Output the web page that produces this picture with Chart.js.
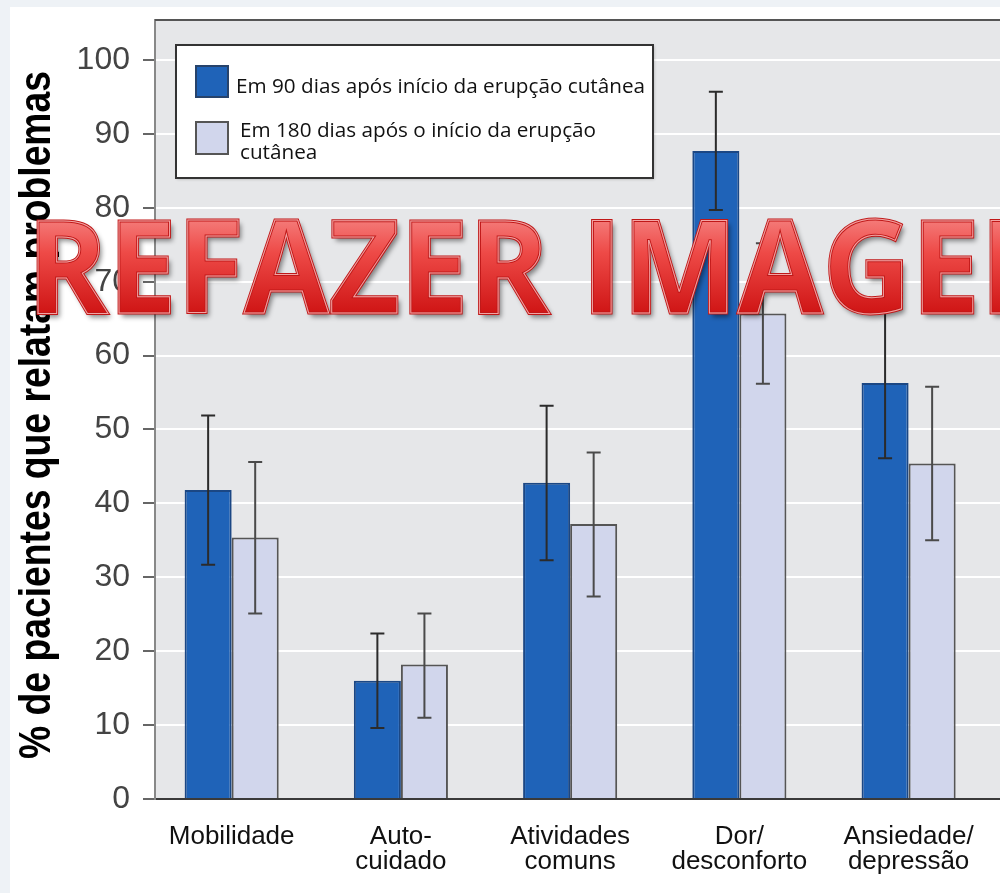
<!DOCTYPE html>
<html>
<head>
<meta charset="utf-8">
<script src="https://cdn.jsdelivr.net/npm/chart.js@4.4.0/dist/chart.umd.min.js"></script>
<style>
  body { margin: 0; background: #eef2f6; }
  canvas { display: block; }
</style>
</head>
<body>
<canvas id="grafico" width="1000" height="893"></canvas>
<script>
// categorias do eixo x (quebradas em linhas)
const categorias = [
    ['Mobilidade'],
    ['Auto-', 'cuidado'],
    ['Atividades', 'comuns'],
    ['Dor/', 'desconforto'],
    ['Ansiedade/', 'depressão']
];

const serie90 = 'Em 90 dias após início da erupção cutânea';
const serie180 = 'Em 180 dias após o início da erupção cutânea';

// % de pacientes
const valores90 = [41.8, 16.0, 42.8, 87.7, 56.3];
const valores180 = [35.4, 18.2, 37.2, 65.7, 45.4];

// intervalos (barras de erro)
const min90 = [31.7, 9.6, 32.3, 79.7, 46.1];
const max90 = [51.9, 22.4, 53.2, 95.7, 66.6];
const min180 = [25.1, 11.0, 27.4, 56.2, 35.0];
const max180 = [45.6, 25.1, 46.9, 75.2, 55.8];

const ticksY = [0, 10, 20, 30, 40, 50, 60, 70, 80, 90, 100];

const tituloY = '% de pacientes que relatam problemas';
const marcaDagua = 'REFAZER IMAGEM';

const azul = '#1f63b8';
const claro = '#d1d6ec';

function pontos(valores) {
    return valores.map((v, i) => ({ x: i, y: v }));
}

// fundo: moldura branca e caixa cinza do grafico
const fundo = {
    id: 'fundo',
    beforeDraw(chart) {
        const ctx = chart.ctx;
        const a = chart.chartArea;
        ctx.save();
        ctx.fillStyle = '#eef2f6';
        ctx.fillRect(0, 0, chart.width, chart.height);
        ctx.fillStyle = '#ffffff';
        ctx.fillRect(10, 7, chart.width - 10, chart.height - 7);
        ctx.fillStyle = '#e6e7e9';
        ctx.fillRect(a.left, a.top, chart.width - a.left, a.bottom - a.top);
        ctx.restore();
    },
    afterDraw(chart) {
        const ctx = chart.ctx;
        const a = chart.chartArea;
        ctx.save();
        ctx.strokeStyle = '#555';
        ctx.lineWidth = 2;
        ctx.beginPath();
        ctx.moveTo(a.left, a.top);
        ctx.lineTo(chart.width, a.top);
        ctx.stroke();
        // titulo do eixo y
        ctx.fillStyle = '#000';
        ctx.font = 'bold 44px "Liberation Sans", Arial';
        ctx.textAlign = 'center';
        ctx.textBaseline = 'middle';
        const w = ctx.measureText(tituloY).width;
        ctx.translate(38, 415);
        ctx.rotate(-Math.PI / 2);
        ctx.scale(688 / w, 1);
        ctx.fillText(tituloY, 0, 0);
        ctx.restore();
    }
};

// barras de erro
const barrasErro = {
    id: 'barrasErro',
    afterDatasetsDraw(chart) {
        const ctx = chart.ctx;
        const y = chart.scales.y;
        const limites = [[min90, max90], [min180, max180]];
        ctx.save();
        ctx.lineWidth = 2;
        chart.data.datasets.forEach((ds, d) => {
            ctx.strokeStyle = d === 0 ? '#2b2b2b' : '#4a4a4a';
            chart.getDatasetMeta(d).data.forEach((bar, i) => {
                const yb = y.getPixelForValue(limites[d][0][i]);
                const yt = y.getPixelForValue(limites[d][1][i]);
                ctx.beginPath();
                ctx.moveTo(bar.x, yb);
                ctx.lineTo(bar.x, yt);
                ctx.moveTo(bar.x - 7, yt);
                ctx.lineTo(bar.x + 7, yt);
                ctx.moveTo(bar.x - 7, yb);
                ctx.lineTo(bar.x + 7, yb);
                ctx.stroke();
            });
        });
        ctx.restore();
    }
};

// legenda em caixa, com quebra de linha
const legenda = {
    id: 'legenda',
    afterDatasetsDraw(chart) {
        const ctx = chart.ctx;
        const ds = chart.data.datasets;
        ctx.save();
        ctx.shadowColor = 'rgba(0,0,0,0.25)';
        ctx.shadowBlur = 3;
        ctx.shadowOffsetX = 1;
        ctx.shadowOffsetY = 1;
        ctx.fillStyle = '#ffffff';
        ctx.fillRect(176, 45, 477, 133);
        ctx.shadowColor = 'transparent';
        ctx.strokeStyle = '#333';
        ctx.lineWidth = 2;
        ctx.strokeRect(176, 45, 477, 133);

        ctx.fillStyle = ds[0].backgroundColor;
        ctx.fillRect(196, 66, 32, 31);
        ctx.strokeStyle = '#27436b';
        ctx.strokeRect(196, 66, 32, 31);
        ctx.fillStyle = ds[1].backgroundColor;
        ctx.fillRect(196, 122, 32, 32);
        ctx.strokeStyle = '#555';
        ctx.strokeRect(196, 122, 32, 32);

        ctx.fillStyle = '#111';
        ctx.font = '18px "Open Sans"';
        const escala = 409 / ctx.measureText(ds[0].label).width;
        ctx.font = (18 * escala).toFixed(1) + 'px "Open Sans"';
        ctx.textBaseline = 'middle';
        ctx.fillText(ds[0].label, 236, 87);
        const partes = ds[1].label.split(' ');
        ctx.fillText(partes.slice(0, -1).join(' '), 240, 131);
        ctx.fillText(partes[partes.length - 1], 240, 153);
        ctx.restore();
    }
};

// marca d'agua vermelha por cima de tudo
const aviso = {
    id: 'aviso',
    afterDraw(chart) {
        const ctx = chart.ctx;
        ctx.save();
        ctx.font = 'bold 130px "Open Sans"';
        ctx.textBaseline = 'alphabetic';
        const largura = ctx.measureText(marcaDagua.slice(0, -1)).width;
        const sx = 953 / largura;
        ctx.translate(27, 313);
        ctx.scale(sx, 1);
        const g = ctx.createLinearGradient(0, -93, 0, 0);
        g.addColorStop(0, '#f47a78');
        g.addColorStop(0.35, '#ee4a47');
        g.addColorStop(1, '#cf1515');
        ctx.shadowColor = 'rgba(0,0,0,0.45)';
        ctx.shadowBlur = 5;
        ctx.shadowOffsetX = 3;
        ctx.shadowOffsetY = 4;
        ctx.fillStyle = g;
        ctx.fillText(marcaDagua, 0, 0);
        ctx.shadowColor = 'transparent';
        ctx.lineWidth = 3;
        ctx.strokeStyle = '#c01818';
        ctx.strokeText(marcaDagua, 0, 0);
        ctx.lineWidth = 1;
        ctx.strokeStyle = 'rgba(255,200,200,0.8)';
        ctx.strokeText(marcaDagua, 0, 0);
        ctx.restore();
    }
};

const ctx = document.getElementById('grafico').getContext('2d');
const grafico = new Chart(ctx, {
    type: 'bar',
    data: {
        datasets: [{
            label: serie90,
            data: pontos(valores90),
            backgroundColor: azul,
            borderColor: '#1b4784',
            borderWidth: 2
        }, {
            label: serie180,
            data: pontos(valores180),
            backgroundColor: claro,
            borderColor: '#555',
            borderWidth: 2
        }]
    },
    plugins: [fundo, barrasErro, legenda, aviso],
    options: {
        responsive: false,
        animation: false,
        layout: { padding: { top: 20, left: 0, right: 0, bottom: 0 } },
        categoryPercentage: 0.556,
        barPercentage: 1,
        plugins: {
            legend: { display: false },
            tooltip: { enabled: false }
        },
        scales: {
            x: {
                type: 'linear',
                offset: false,
                min: -0.453,
                max: 4.54,
                afterFit: s => { s.height = 94; s.paddingLeft = 0; s.paddingRight = 0; },
                afterBuildTicks: s => { s.ticks = s.ticks.filter(t => Number.isInteger(t.value)); },
                grid: { display: false, drawTicks: false, tickLength: 0 },
                border: { color: '#3a3a3a', width: 2 },
                ticks: {
                    stepSize: 1,
                    includeBounds: false,
                    autoSkip: false,
                    maxRotation: 0,
                    padding: 25,
                    color: '#111',
                    font: { family: '"Liberation Sans", Arial', size: 26, lineHeight: 0.97 },
                    callback: v => categorias[v] || ''
                }
            },
            y: {
                min: 0,
                max: 105.41,
                afterFit: s => { s.width = 155; s.paddingTop = 0; s.paddingBottom = 0; },
                afterBuildTicks: s => { s.ticks = ticksY.map(v => ({ value: v })); },
                grid: {
                    color: c => c.tick && c.tick.value === 0 ? 'transparent' : '#ffffff',
                    lineWidth: 2,
                    tickColor: '#666',
                    tickWidth: 2,
                    tickLength: 12
                },
                border: { color: '#888', width: 2 },
                ticks: {
                    padding: 13,
                    color: '#444',
                    font: { family: '"Liberation Sans", Arial', size: 32 }
                }
            }
        }
    }
});
</script>
</body>
</html>
